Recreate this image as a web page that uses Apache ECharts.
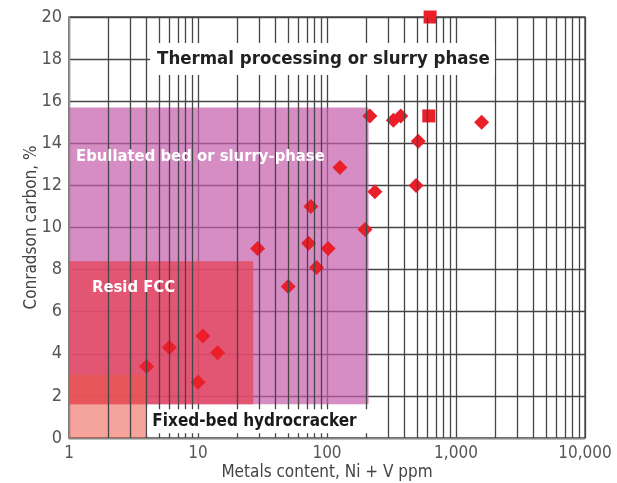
<!DOCTYPE html>
<html>
<head>
<meta charset="utf-8">
<script src="https://cdn.jsdelivr.net/npm/echarts@6/dist/echarts.min.js"></script>
<style>
  html, body { margin: 0; padding: 0; background: #ffffff; }
  #chart { width: 617px; height: 483px; }
</style>
</head>
<body>
<div id="chart"></div>
<script>
// Feedstocks: metals content (Ni + V, ppm) against Conradson carbon (%)
const diamondMetals = [4, 6, 10, 10.9, 14.2, 29, 50, 72, 75, 83, 102, 126, 197, 215, 235, 327, 373, 490, 510, 1580];
const diamondCarbon = [3.4, 4.3, 2.65, 4.85, 4.05, 9.0, 7.2, 9.25, 11.0, 8.1, 9.0, 12.85, 9.9, 15.3, 11.7, 15.1, 15.3, 12.0, 14.1, 15.0];
const squareMetals = [630, 615];
const squareCarbon = [20, 15.3];

// Process windows (metals range x carbon range)
const regionNames = ['Ebullated bed or slurry-phase', 'Resid FCC', 'Fixed-bed hydrocracker'];
const regionMetalsMin = [1, 1, 1];
const regionMetalsMax = [210, 26.8, 4.0];
const regionCarbonMin = [1.6, 1.6, 0];
const regionCarbonMax = [15.7, 8.4, 3.0];
const topRegionName = 'Thermal processing or slurry phase';

// Axis ticks
const xTicks = [1, 10, 100, 1000, 10000];
const xTickLabels = ['1', '10', '100', '1,000', '10,000'];
const yTicks = [0, 2, 4, 6, 8, 10, 12, 14, 16, 18, 20];
const xMinorMultipliers = [2, 3, 4, 5, 6, 7, 8, 9];

const FONT = "'DejaVu Sans Condensed', 'Liberation Sans Narrow', 'Arial Narrow', sans-serif";
const LINE = '#454545';

const chart = echarts.init(document.getElementById('chart'), null, { renderer: 'canvas' });

// log-scale minor grid lines at 2..9 of every decade
const minorLines = [];
xTicks.slice(0, -1).forEach(d => xMinorMultipliers.forEach(m => minorLines.push({ xAxis: d * m })));

const regionFills = ['rgba(195,92,171,0.7)', 'rgba(229,72,96,0.8)', 'rgba(235,86,68,0.54)'];
const regionAreas = regionNames.map((n, i) => ([
  { xAxis: regionMetalsMin[i], yAxis: regionCarbonMin[i], itemStyle: { color: regionFills[i] } },
  { xAxis: regionMetalsMax[i], yAxis: regionCarbonMax[i] }
]));

const textBase = { fontFamily: FONT, fontWeight: 'bold' };

const option = {
  animation: false,
  backgroundColor: '#ffffff',
  grid: {
    left: 69, right: 32, top: 17, bottom: 45, outerBoundsMode: 'none', containLabel: false,
    show: true, borderColor: LINE, borderWidth: 1.3, backgroundColor: 'transparent'
  },
  xAxis: {
    type: 'log', logBase: 10, min: 1, max: 10000,
    name: 'Metals content, Ni + V ppm', nameLocation: 'middle', nameGap: 26, nameMoveOverlap: false,
    nameTextStyle: { fontFamily: FONT, fontSize: 17, color: '#444' },
    axisLine: { show: true, lineStyle: { color: '#888', width: 1.3 } },
    axisTick: { show: false },
    axisLabel: {
      fontFamily: FONT, fontSize: 17, color: '#555', margin: 7,
      formatter: v => { const i = xTicks.findIndex(t => Math.abs(t - v) < 1e-6 * t); return i >= 0 ? xTickLabels[i] : ''; }
    },
    splitLine: { show: true, lineStyle: { color: LINE, width: 1.3 } },
    minorTick: { show: false },
    minorSplitLine: { show: false }
  },
  yAxis: {
    type: 'value', min: 0, max: 20, interval: 2,
    name: 'Conradson carbon, %', nameLocation: 'middle', nameGap: 29, nameRotate: 90, nameMoveOverlap: false,
    nameTextStyle: { fontFamily: FONT, fontSize: 17, color: '#444' },
    axisLine: { show: true, lineStyle: { color: '#999', width: 1.3 } },
    axisTick: { show: false },
    axisLabel: { fontFamily: FONT, fontSize: 18, color: '#555', margin: 7,
      formatter: v => (yTicks.indexOf(v) >= 0 ? String(v) : '') },
    splitLine: { show: true, lineStyle: { color: LINE, width: 1.3 } }
  },
  series: [
    {
      name: 'minor grid', type: 'line', data: [], z: 1, silent: true,
      markLine: {
        silent: true, symbol: ['none', 'none'], animation: false,
        label: { show: false },
        lineStyle: { color: LINE, width: 1.3, type: 'solid' },
        data: minorLines
      }
    },
    {
      name: 'regions', type: 'line', data: [], z: 2, silent: true,
      markArea: { silent: true, label: { show: false }, data: regionAreas }
    },
    {
      name: 'feeds', type: 'scatter', z: 4, symbol: 'diamond', symbolSize: 15,
      clip: false,
      itemStyle: { color: '#eb1f2a', opacity: 1 },
      data: diamondMetals.map((x, i) => [x, diamondCarbon[i]])
    },
    {
      name: 'feeds (square)', type: 'scatter', z: 4, symbol: 'rect', symbolSize: 13,
      clip: false,
      itemStyle: { color: '#eb1f2a', opacity: 1 },
      data: squareMetals.map((x, i) => [x, squareCarbon[i]])
    },
    {
      name: 'region labels', type: 'scatter', z: 6, symbolSize: 0, silent: true, clip: false,
      itemStyle: { opacity: 1 },
      label: { show: true, position: 'right', distance: 0 },
      data: [
        { value: [4.25, 18.0], label: Object.assign({}, textBase, { formatter: topRegionName, fontSize: 18.5, color: '#222', backgroundColor: '#ffffff', padding: [7, 5, 6, 7] }) },
        { value: [1.133, 13.35], label: Object.assign({}, textBase, { formatter: regionNames[0], fontSize: 16.5, color: '#ffffff' }) },
        { value: [1.508, 7.15], label: Object.assign({}, textBase, { formatter: regionNames[1], fontSize: 16.5, color: '#ffffff' }) },
        { value: [4.05, 0.8], label: Object.assign({}, textBase, { formatter: regionNames[2], fontSize: 17, color: '#1a1a1a', backgroundColor: '#ffffff', padding: [4, 12, 3, 5] }) }
      ]
    }
  ]
};

chart.setOption(option);
</script>
</body>
</html>
